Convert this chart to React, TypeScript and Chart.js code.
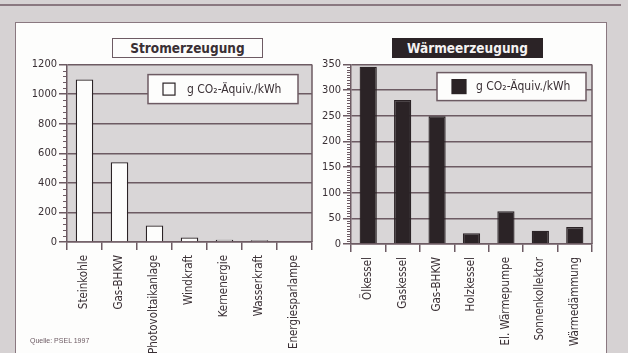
import React, { useEffect, useRef } from "react";
import { Chart, registerables } from "chart.js";

Chart.register(...registerables);

const stromCategories = ["Steinkohle", "Gas-BHKW", "Photovoltaikanlage", "Windkraft", "Kernenergie", "Wasserkraft", "Energiesparlampe"];
const stromValues = [1100, 540, 112, 31, 16, 11, 0];
const stromTicks = { min: 0, max: 1200, step: 200, minor: 40 };

const waermeCategories = ["Ölkessel", "Gaskessel", "Gas-BHKW", "Holzkessel", "El. Wärmepumpe", "Sonnenkollektor", "Wärmedämmung"];
const waermeValues = [346, 281, 249, 21, 64, 26, 33];
const waermeTicks = { min: 0, max: 350, step: 50, minor: 5 };

const seriesLabel = "g CO₂-Äquiv./kWh";
const stromTitle = "Stromerzeugung";
const waermeTitle = "Wärmeerzeugung";
const sourceNote = "Quelle: PSEL 1997";

const FONT = '"Liberation Sans Narrow", "DejaVu Sans Condensed", "Open Sans", sans-serif';
const LINE = "#6d5b63";
const TEXT = "#3a3035";
const OUTER_BG = "#d6d2d3";
const PLOT_BG = "#d9d6d7";
const DARK = "#2b2326";

const framePlugin = {
  id: "frame",
  beforeDraw(chart: any) {
    const { ctx, chartArea: a } = chart;
    ctx.save();
    ctx.fillStyle = PLOT_BG;
    ctx.fillRect(a.left, a.top, a.right - a.left, a.bottom - a.top);
    ctx.restore();
  },
  afterDraw(chart: any, _args: any, opts: any) {
    const { ctx, chartArea: a } = chart;
    const y = chart.scales.y;
    ctx.save();
    ctx.strokeStyle = LINE;
    ctx.lineWidth = 1.5;
    ctx.beginPath();
    ctx.moveTo(a.right, a.top);
    ctx.lineTo(a.right, a.bottom);
    ctx.stroke();
    // minor ticks
    ctx.lineWidth = 1;
    for (let v = y.min; v <= y.max + 1e-6; v += opts.minor) {
      if (Math.abs(v / opts.major - Math.round(v / opts.major)) < 1e-6) continue;
      const py = Math.round(y.getPixelForValue(v)) + 0.5;
      ctx.beginPath();
      ctx.moveTo(a.left - 4, py);
      ctx.lineTo(a.left, py);
      ctx.stroke();
    }
    // legend box
    const lx = a.right - opts.legRight - opts.legW;
    const ly = a.top + opts.legTop;
    ctx.fillStyle = "#fdfdfc";
    ctx.fillRect(lx, ly, opts.legW, opts.legH);
    ctx.lineWidth = 1.5;
    ctx.strokeStyle = LINE;
    ctx.strokeRect(lx, ly, opts.legW, opts.legH);
    const ds = chart.data.datasets[0];
    const sw = opts.swatch;
    const sy = ly + (opts.legH - sw) / 2;
    ctx.fillStyle = ds.backgroundColor;
    ctx.fillRect(lx + 15, sy, sw, sw);
    ctx.lineWidth = 1.2;
    ctx.strokeStyle = ds.borderColor;
    ctx.strokeRect(lx + 15, sy, sw, sw);
    ctx.fillStyle = TEXT;
    ctx.font = `12px ${FONT}`;
    ctx.textBaseline = "middle";
    ctx.fillText(ds.label, lx + 39, ly + opts.legH / 2 + 0.5);
    ctx.restore();
  },
};

function makeConfig(categories: string[], values: number[], ticks: any, fill: string, yWidth: number, xHeight: number, pad: any, leg: any) {
  return {
    type: "bar" as const,
    data: {
      labels: categories,
      datasets: [
        {
          label: seriesLabel,
          data: values,
          backgroundColor: fill,
          borderColor: DARK,
          borderWidth: 1.3,
          barPercentage: 0.5,
          categoryPercentage: 1.0,
        },
      ],
    },
    options: {
      animation: false,
      responsive: false,
      maintainAspectRatio: false,
      layout: { padding: pad },
      plugins: {
        legend: { display: false },
        tooltip: { enabled: false },
        title: { display: false },
        frame: { minor: ticks.minor, major: ticks.step, ...leg },
      },
      scales: {
        x: {
          type: "category",
          offset: true,
          grid: { offset: true, drawOnChartArea: false, drawTicks: true, tickLength: 8, color: LINE, lineWidth: 1.5 },
          border: { display: true, color: LINE, width: 1.5 },
          ticks: { minRotation: 90, maxRotation: 90, autoSkip: false, color: TEXT, padding: 5, font: { family: FONT, size: 11.5 } },
          afterFit(scale: any) { scale.height = xHeight; },
        },
        y: {
          min: ticks.min,
          max: ticks.max,
          grid: { drawOnChartArea: true, drawTicks: true, tickLength: 8, color: LINE, lineWidth: 1.5 },
          border: { display: true, color: LINE, width: 1.5 },
          ticks: {
            stepSize: ticks.step,
            color: TEXT,
            padding: 2,
            font: { family: FONT, size: 11 },
            callback: (v: any) => String(v),
          },
          afterFit(scale: any) { scale.width = yWidth; },
        },
      },
    },
    plugins: [framePlugin],
  };
}

function BarChart(props: { w: number; h: number; left: number; top: number; config: any }) {
  const ref = useRef<HTMLCanvasElement>(null);
  useEffect(() => {
    const chart = new Chart(ref.current as HTMLCanvasElement, props.config);
    return () => chart.destroy();
  }, []);
  return (
    <canvas
      ref={ref}
      width={props.w}
      height={props.h}
      style={{ position: "absolute", left: props.left, top: props.top, width: props.w, height: props.h }}
    />
  );
}

export default function App() {
  const leftCfg = makeConfig(stromCategories, stromValues, stromTicks, "#fdfdfc", 51, 111, { left: 0, top: 7, right: 8, bottom: 0 },
    { legRight: 14, legTop: 10, legW: 150, legH: 29, swatch: 12 });
  const rightCfg = makeConfig(waermeCategories, waermeValues, waermeTicks, DARK, 31, 109, { left: 0, top: 8, right: 18, bottom: 0 },
    { legRight: 6, legTop: 8, legW: 149, legH: 28, swatch: 14 });

  const titleBase: React.CSSProperties = {
    position: "absolute",
    top: 38,
    height: 20,
    width: 151,
    boxSizing: "border-box",
    display: "flex",
    alignItems: "center",
    justifyContent: "center",
    fontFamily: FONT,
    fontWeight: "bold",
    fontSize: 13.5,
  };

  return (
    <div style={{ position: "fixed", left: 0, top: 0, width: 628, height: 353, overflow: "hidden", background: OUTER_BG }}>
      <div style={{ position: "absolute", left: 0, top: 4, width: 621, height: 1.5, background: "#8a7880" }} />
      <div style={{ position: "absolute", left: 15, top: 22, width: 592, height: 340, background: "#fdfdfc", border: "1.5px solid #8a7880", boxSizing: "border-box" }} />
      <div style={{ ...titleBase, left: 112, background: "#fdfdfc", border: `1.5px solid ${LINE}`, color: TEXT }}>{stromTitle}</div>
      <div style={{ ...titleBase, left: 392, background: DARK, color: "#f4f2f2" }}>{waermeTitle}</div>
      <BarChart w={304} h={297} left={16} top={56} config={leftCfg} />
      <BarChart w={290} h={297} left={320} top={56} config={rightCfg} />
      <div style={{ position: "absolute", left: 30, top: 337, fontFamily: '"Liberation Sans", Arial, sans-serif', fontSize: 7, color: "#6d5b63" }}>{sourceNote}</div>
    </div>
  );
}
